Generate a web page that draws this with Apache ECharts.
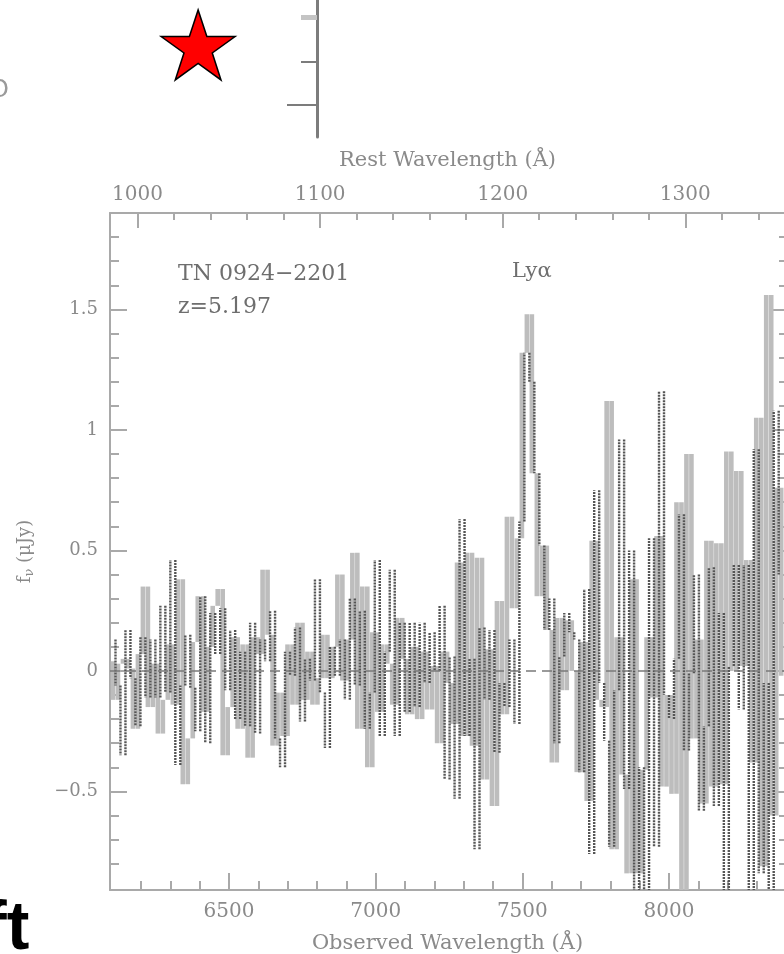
<!DOCTYPE html>
<html><head><meta charset="utf-8">
<script src="https://cdn.jsdelivr.net/npm/echarts@6/dist/echarts.min.js"></script>
<style>html,body{margin:0;padding:0;background:#fff}#c{width:784px;height:954px}</style>
</head><body><div id="c"></div>
<script>
// ---- data ----
const OBS_RANGE = [6094.3, 8395.5];      // observed wavelength range (Å)
const REST_RANGE = [984.9, 1354.6];      // rest wavelength range (Å)
const FLUX_RANGE = [-0.909, 1.900];      // f_nu (μJy)

const OBS_MINOR_TICKS = [6200,6300,6400,6500,6600,6700,6800,6900,7000,7100,7200,7300,7400,7500,7600,7700,7800,7900,8000,8100,8200,8300];
const OBS_MAJOR_TICKS = [6500,7000,7500,8000];
const REST_MINOR_TICKS = [1000,1020,1040,1060,1080,1100,1120,1140,1160,1180,1200,1220,1240,1260,1280,1300,1320,1340];
const REST_MAJOR_TICKS = [1000,1100,1200,1300];
const FLUX_MINOR_TICKS = [-0.8,-0.7,-0.6,-0.5,-0.4,-0.3,-0.2,-0.1,0,0.1,0.2,0.3,0.4,0.5,0.6,0.7,0.8,0.9,1.0,1.1,1.2,1.3,1.4,1.5,1.6,1.7,1.8];
const FLUX_MAJOR_TICKS = [-0.5,0,0.5,1,1.5];

// spectrum sampled on a regular wavelength grid (start, dispersion in Å/pixel)
const SPEC_LIGHT_START = 6096, SPEC_LIGHT_STEP = 17;
const SPEC_LIGHT = [
 0.04,-0.12,0.03,0.05,0.01,-0.24,0.07,0.35,-0.15,0.03,-0.26,-0.12,0.11,-0.14,0.38,-0.47,-0.28,0.12,0.31,-0.17,
 0.10,0.27,0.34,-0.35,-0.15,0.14,-0.24,0.11,-0.36,0.14,0.07,0.42,0.15,-0.31,-0.09,
 -0.27,0.11,-0.14,0.20,-0.12,0.08,-0.14,-0.03,0.15,-0.03,0.10,0.40,-0.04,0.13,0.49,-0.24,0.35,-0.40,0.16,-0.17,
 0.11,0.03,-0.14,0.22,0.05,-0.18,0.10,-0.20,0.08,-0.16,0.02,-0.30,0.08,-0.05,-0.22,
 0.45,-0.27,0.49,-0.31,0.47,-0.45,0.09,-0.56,0.29,-0.18,0.64,0.26,0.55,1.32,1.48,0.82,0.31,0.52,0.17,-0.38,
 0.22,-0.08,0.21,0.00,-0.42,0.12,-0.54,0.54,-0.12,-0.15,1.12,-0.74,0.14,-0.43,
 -0.84,0.38,-0.84,-0.41,0.14,-0.11,0.56,-0.48,-0.10,-0.51,0.70,-0.95,0.90,-0.28,0.13,-0.55,0.54,-0.48,0.53,-0.47,
 0.91,0.00,0.83,0.02,0.46,-0.38,1.05,-0.81,1.56,-0.60,0.76,-0.02
];
const SPEC_DARK_START = 6104.5, SPEC_DARK_STEP = 17;
const SPEC_DARK = [
 0.13,-0.06,-0.35,0.17,-0.03,-0.23,0.14,-0.11,0.13,-0.11,0.27,-0.09,0.46,-0.39,-0.06,0.15,-0.07,-0.25,0.31,-0.30,
 0.24,0.07,0.26,-0.08,0.17,-0.20,0.08,-0.23,0.20,-0.26,0.13,0.04,0.25,-0.28,-0.40,
 0.08,-0.02,0.18,-0.21,0.05,-0.04,0.38,-0.09,-0.32,0.10,-0.02,0.13,-0.12,0.30,-0.06,0.25,-0.24,-0.09,0.46,-0.27,
 0.08,0.42,-0.27,0.20,-0.17,0.20,-0.15,0.20,-0.05,0.16,0.00,0.27,-0.45,0.06,-0.53,
 0.63,-0.27,0.05,-0.74,0.18,-0.12,0.17,-0.34,-0.05,-0.15,0.13,-0.22,0.62,1.32,1.20,0.82,0.52,0.17,0.30,-0.30,
 0.06,0.24,0.16,0.13,-0.42,0.34,-0.76,0.75,-0.05,-0.29,-0.73,-0.08,0.96,-0.49,0.50,
 -0.95,-0.40,-0.95,0.55,-0.73,1.16,-0.10,-0.20,0.05,0.65,-0.33,-0.01,0.40,-0.58,-0.23,0.43,-0.56,0.24,-0.95,0.02,
 0.44,-0.16,0.44,-0.95,0.92,-0.84,-0.05,-0.95,1.08,0.40
];

// neighbouring panel (partly visible)
const PANEL_STAR = [0.625, 0.672];
const PANEL_TICKS_MID = [0.547];
const PANEL_TICKS_LONG = [0.234];
const PANEL_TICKS_TOP = [0.876];

// ---- chart ----
const AX = '#a9a9a9';
const FONT = 'DejaVu Serif';
const LBL = '#8a8a8a';

// histogram transitions: at each bin edge the flux jumps from one bin value to the next
function edges(values, start, step) {
  const out = [];
  for (let i = 0; i + 1 < values.length; i++) {
    out.push([start + step * (i + 0.5), values[i], values[i + 1]]);
  }
  return out;
}
const lightEdges = edges(SPEC_LIGHT, SPEC_LIGHT_START, SPEC_LIGHT_STEP);
const darkEdges = edges(SPEC_DARK, SPEC_DARK_START, SPEC_DARK_STEP);

function fmtFlux(v) {
  const s = String(Math.abs(v));
  return v < 0 ? '\u2212' + s : s;
}
function tickAxis(base, ticks, len, showLine, lineColor, lineWidth) {
  return Object.assign({
    type: 'value',
    axisLine: { show: showLine, onZero: false, lineStyle: { color: AX, width: 2 } },
    axisTick: { show: true, inside: true, length: len, customValues: ticks,
      lineStyle: { color: lineColor || AX, width: lineWidth || 2 } },
    axisLabel: { show: false },
    splitLine: { show: false },
    axisPointer: { show: false }
  }, base);
}

const chart = echarts.init(document.getElementById('c'), null, { renderer: 'canvas' });

const xBottom = tickAxis({ gridIndex: 0, position: 'bottom', min: OBS_RANGE[0], max: OBS_RANGE[1],
  name: 'Observed Wavelength (\u00C5)', nameLocation: 'middle', nameGap: 43,
  nameTextStyle: { fontFamily: FONT, fontSize: 21, color: LBL } }, OBS_MINOR_TICKS, 9, true);
xBottom.axisLabel = { show: true, customValues: OBS_MAJOR_TICKS, margin: 12, color: LBL, fontFamily: FONT, fontSize: 20,
  formatter: v => String(v) };

const xTop = tickAxis({ gridIndex: 0, position: 'top', min: REST_RANGE[0], max: REST_RANGE[1],
  name: 'Rest Wavelength (\u00C5)', nameLocation: 'middle', nameGap: 42,
  nameTextStyle: { fontFamily: FONT, fontSize: 21, color: LBL } }, REST_MINOR_TICKS, 7, true);
xTop.axisLabel = { show: true, customValues: REST_MAJOR_TICKS, margin: 8, color: LBL, fontFamily: FONT, fontSize: 20,
  formatter: v => String(v) };

const yLeft = tickAxis({ gridIndex: 0, position: 'left', min: FLUX_RANGE[0], max: FLUX_RANGE[1],
  name: '{f|f}{s|\u03BD}{f| (\u03BCJy)}', nameLocation: 'middle', nameGap: 74, nameRotate: 90,
  nameTextStyle: { color: LBL, rich: {
    f: { fontFamily: FONT, fontSize: 18, color: LBL },
    s: { fontFamily: FONT, fontSize: 13, color: LBL, verticalAlign: 'bottom', padding: [8, 0, 0, 0] } } } },
  FLUX_MINOR_TICKS, 9, true);
yLeft.axisLabel = { show: true, customValues: FLUX_MAJOR_TICKS, margin: 12, color: LBL, fontFamily: FONT, fontSize: 18, formatter: fmtFlux };

function renderLight(params, api) {
  const x = api.value(0), a = api.value(1), b = api.value(2);
  const p1 = api.coord([x, a]), p2 = api.coord([x, b]);
  const top = Math.min(p1[1], p2[1]);
  return {
    type: 'rect',
    shape: { x: p1[0] - 2.3, y: top, width: 4.6, height: Math.max(2, Math.abs(p1[1] - p2[1])) },
    style: { fill: '#bdbdbd' }
  };
}
function renderDark(params, api) {
  const x = api.value(0), a = api.value(1), b = api.value(2);
  const p1 = api.coord([x, a]), p2 = api.coord([x, b]);
  return {
    type: 'line',
    shape: { x1: p1[0], y1: p1[1], x2: p2[0], y2: p2[1] },
    style: { stroke: '#555555', lineWidth: 2.4, lineDash: [2, 1] }
  };
}

const option = {
  animation: false,
  backgroundColor: '#ffffff',
  grid: [
    { left: 110, top: 213, width: 675, bottom: 64, outerBoundsMode: 'none' },
    { left: 0, top: 0, width: 317, height: 137, outerBoundsMode: 'none' }
  ],
  xAxis: [
    xBottom,
    tickAxis({ gridIndex: 0, position: 'bottom', min: OBS_RANGE[0], max: OBS_RANGE[1] }, OBS_MAJOR_TICKS, 17, false),
    xTop,
    tickAxis({ gridIndex: 0, position: 'top', min: REST_RANGE[0], max: REST_RANGE[1] }, REST_MAJOR_TICKS, 15, false),
    { type: 'value', gridIndex: 1, min: 0, max: 1, show: false }
  ],
  yAxis: [
    yLeft,
    tickAxis({ gridIndex: 0, position: 'left', min: FLUX_RANGE[0], max: FLUX_RANGE[1] }, FLUX_MAJOR_TICKS, 17, false),
    tickAxis({ gridIndex: 0, position: 'right', min: FLUX_RANGE[0], max: FLUX_RANGE[1] }, FLUX_MINOR_TICKS, 6, true),
    tickAxis({ gridIndex: 0, position: 'right', min: FLUX_RANGE[0], max: FLUX_RANGE[1] }, FLUX_MAJOR_TICKS, 12, false),
    Object.assign(tickAxis({ gridIndex: 1, position: 'right', min: 0, max: 1 }, PANEL_TICKS_MID, 16, true, '#7c7c7c', 2),
      { axisLine: { show: true, onZero: false, lineStyle: { color: '#7c7c7c', width: 3 } } }),
    tickAxis({ gridIndex: 1, position: 'right', min: 0, max: 1 }, PANEL_TICKS_LONG, 30, false, '#7c7c7c', 2),
    tickAxis({ gridIndex: 1, position: 'right', min: 0, max: 1 }, PANEL_TICKS_TOP, 16, false, '#c4c4c4', 5)
  ],
  series: [
    {
      type: 'custom', xAxisIndex: 0, yAxisIndex: 0, data: lightEdges, renderItem: renderLight,
      encode: { x: 0, y: [1, 2] }, clip: true, z: 2
    },
    {
      type: 'custom', xAxisIndex: 0, yAxisIndex: 0, data: darkEdges, renderItem: renderDark,
      encode: { x: 0, y: [1, 2] }, clip: true, z: 3
    },
    {
      type: 'line', xAxisIndex: 0, yAxisIndex: 0, data: [], symbol: 'none', z: 4,
      markLine: {
        silent: true, symbol: ['none', 'none'], label: { show: false },
        lineStyle: { color: '#7a7a7a', type: [10, 6], width: 1.5 },
        data: [{ yAxis: 0 }]
      }
    },
    {
      type: 'scatter', xAxisIndex: 4, yAxisIndex: 4, data: [PANEL_STAR],
      symbol: 'path://M50,0 L61.8,35.4 L100,35.4 L69.1,57.3 L80.9,93.3 L50,71.4 L19.1,93.3 L30.9,57.3 L0,35.4 L38.2,35.4 Z',
      symbolSize: [74, 70],
      itemStyle: { color: '#ff0000', borderColor: '#000000', borderWidth: 1.5, opacity: 1 }
    }
  ],
  graphic: [
    { type: 'text', left: 178, top: 263, style: { text: 'TN 0924\u22122201', font: '22px "DejaVu Serif"', fill: '#6e6e6e' } },
    { type: 'text', left: 178, top: 296, style: { text: 'z=5.197', font: '22px "DejaVu Serif"', fill: '#6e6e6e' } },
    { type: 'text', left: 512, top: 261, style: { text: 'Ly\u03B1', font: '21px "DejaVu Serif"', fill: '#6e6e6e' } },
    { type: 'text', left: -10, top: 79, style: { text: 'O', font: '24px "DejaVu Sans"', fill: '#9a9a9a' } },
    { type: 'text', left: -16, top: 896, style: { text: 'ft', font: 'bold 68px "Liberation Sans"', fill: '#000000' } }
  ]
};
chart.setOption(option);
</script></body></html>
